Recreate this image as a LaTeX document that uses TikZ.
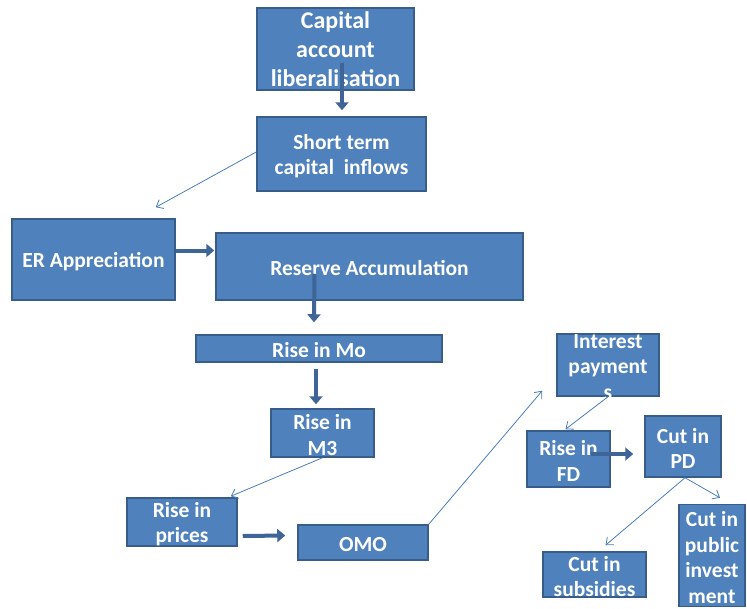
\documentclass[tikz,border=0pt]{standalone}
\usepackage{fontspec}
\setmainfont{Carlito}
\usetikzlibrary{arrows.meta}
\definecolor{boxfill}{HTML}{4F81BD}
\definecolor{boxline}{HTML}{385D8A}
\definecolor{thinblue}{HTML}{4A7EBB}
\definecolor{fatblue}{HTML}{3E6498}
\tikzset{
  box/.style={draw=boxline, fill=boxfill, line width=1.5pt, inner sep=0pt},
  boxtext/.style={text=white, align=center, inner sep=0pt, yshift=-2pt, font=\bfseries\fontsize{21.5}{25.5}\selectfont},
  bigtext/.style={boxtext, yshift=2pt, font=\bfseries\fontsize{24}{29}\selectfont},
  fatarrow/.style={draw=fatblue, line width=4pt, -{Triangle[length=8pt,width=13pt]}},
  thinarrow/.style={draw=thinblue, line width=0.8pt, -{Straight Barb[length=6pt,width=10pt]}}
}
\begin{document}
\begin{tikzpicture}[x=1pt,y=-1pt]
  \useasboundingbox (0,0) rectangle (747,608);

  % boxes
  \node[box, minimum width=157pt, minimum height=82pt, label={[bigtext]center:{Capital\\account\\liberalisation}}] (cap) at (335.5,49) {};
  \node[box, minimum width=169pt, minimum height=74pt, label={[boxtext]center:{Short term\\capital\ \ inflows}}] (sti) at (341.5,154) {};
  \node[box, minimum width=163pt, minimum height=81pt, label={[boxtext]center:{ER Appreciation}}] (er) at (93.5,259.5) {};
  \node[box, minimum width=307pt, minimum height=67pt, label={[boxtext]center:{Reserve Accumulation}}] (res) at (369.5,266.5) {};
  \node[box, minimum width=246pt, minimum height=27pt, label={[boxtext]center:{Rise in Mo}}] (mo) at (319,348.5) {};
  \node[box, minimum width=103pt, minimum height=48pt, label={[boxtext]center:{Rise in\\M3}}] (m3) at (322.5,433) {};
  \node[box, minimum width=110pt, minimum height=48pt, label={[boxtext]center:{Rise in\\prices}}] (pr) at (182,522) {};
  \node[box, minimum width=130pt, minimum height=35pt, label={[boxtext]center:{OMO}}] (omo) at (363,542.5) {};
  \node[box, minimum width=102pt, minimum height=62pt, label={[boxtext]center:{Interest\\payment\\s}}] (int) at (608,365) {};
  \node[box, minimum width=83pt, minimum height=56pt, label={[boxtext]center:{Rise in\\FD}}] (fd) at (568.5,459) {};
  \node[box, minimum width=76pt, minimum height=61pt, label={[boxtext]center:{Cut in\\PD}}] (pd) at (683,446.5) {};
  \node[box, minimum width=103pt, minimum height=45pt, label={[boxtext]center:{Cut in\\subsidies}}] (sub) at (594.5,574.5) {};
  \node[box, minimum width=66pt, minimum height=102pt, label={[boxtext]center:{Cut in\\public\\invest\\ment}}] (pub) at (712,555.5) {};

  % arrows
  \draw[fatarrow] ([xshift=6.5pt,yshift=28pt]cap.south) -- ([xshift=0.5pt,yshift=6pt]sti.north);
  \draw[thinarrow] ([yshift=2pt]sti.west) -- ([xshift=-20pt,yshift=11pt]er.north east);
  \draw[fatarrow] ([yshift=9pt]er.east) -- ([xshift=-1pt,yshift=16pt]res.west);
  \draw[fatarrow] ([xshift=-55pt,yshift=27pt]res.south) -- ([xshift=-5pt,yshift=12pt]mo.north);
  \draw[fatarrow] ([xshift=-3pt,yshift=-6pt]mo.south) -- ([xshift=-6.5pt,yshift=4pt]m3.north);
  \draw[thinarrow] (m3.south) -- ([xshift=-7pt,yshift=1pt]pr.north east);
  \draw[fatarrow] ([xshift=5pt,yshift=-14pt]pr.east) -- ([xshift=-12pt,yshift=7pt]omo.west);
  \draw[thinarrow] (omo.north east) -- ([xshift=-14pt,yshift=6pt]int.south west);
  \draw[thinarrow] (int.south) -- ([xshift=-3pt,yshift=1pt]fd.north);
  \draw[fatarrow] ([xshift=-20pt,yshift=5pt]fd.east) -- ([xshift=-11pt,yshift=-7.5pt]pd.west);
  \draw[thinarrow] ([xshift=2pt]pd.south) -- ([xshift=11pt,yshift=6pt]sub.north);
  \draw[thinarrow] ([xshift=2pt]pd.south) -- ([xshift=8pt,yshift=6pt]pub.north);
\end{tikzpicture}
\end{document}
